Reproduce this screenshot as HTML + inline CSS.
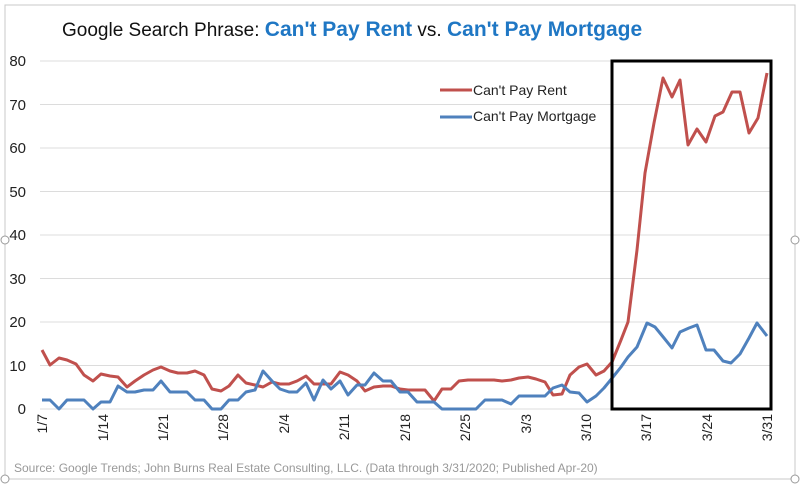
<!DOCTYPE html>
<html><head><style>body{margin:0;background:#fff}svg{display:block}</style></head><body>
<svg width="800" height="484" xmlns="http://www.w3.org/2000/svg" font-family="Liberation Sans, sans-serif">
<rect x="5" y="5" width="790" height="474" fill="none" stroke="#c8c8c8" stroke-width="1"/>
<g fill="#fff" stroke="#999"><circle cx="5" cy="240" r="4"/><circle cx="795" cy="240" r="4"/><circle cx="5" cy="479" r="4"/><circle cx="795" cy="479" r="4"/></g>
<text x="62" y="36" font-size="19" fill="#111">Google Search Phrase: <tspan fill="#1f77c4" font-weight="bold" font-size="21">Can't Pay Rent</tspan> vs. <tspan fill="#1f77c4" font-weight="bold" font-size="21">Can't Pay Mortgage</tspan></text>
<g stroke="#dcdcdc" stroke-width="1">
<line x1="40" x2="770" y1="61" y2="61"/><line x1="40" x2="770" y1="104.5" y2="104.5"/><line x1="40" x2="770" y1="148" y2="148"/><line x1="40" x2="770" y1="191.5" y2="191.5"/><line x1="40" x2="770" y1="235" y2="235"/><line x1="40" x2="770" y1="278.5" y2="278.5"/><line x1="40" x2="770" y1="322" y2="322"/><line x1="40" x2="770" y1="365.5" y2="365.5"/><line x1="40" x2="770" y1="409" y2="409"/>
</g>
<g font-size="15" fill="#222" text-anchor="end">
<text x="26" y="66">80</text><text x="26" y="110">70</text><text x="26" y="153">60</text><text x="26" y="197">50</text><text x="26" y="240">40</text><text x="26" y="284">30</text><text x="26" y="327">20</text><text x="26" y="371">10</text><text x="26" y="414">0</text>
</g>
<g font-size="14" fill="#222" text-anchor="end">
<text transform="translate(47,414) rotate(-90)">1/7</text>
<text transform="translate(108,414) rotate(-90)">1/14</text>
<text transform="translate(168,414) rotate(-90)">1/21</text>
<text transform="translate(228,414) rotate(-90)">1/28</text>
<text transform="translate(289,414) rotate(-90)">2/4</text>
<text transform="translate(349,414) rotate(-90)">2/11</text>
<text transform="translate(410,414) rotate(-90)">2/18</text>
<text transform="translate(470,414) rotate(-90)">2/25</text>
<text transform="translate(531,414) rotate(-90)">3/3</text>
<text transform="translate(591,414) rotate(-90)">3/10</text>
<text transform="translate(651,414) rotate(-90)">3/17</text>
<text transform="translate(712,414) rotate(-90)">3/24</text>
<text transform="translate(772,414) rotate(-90)">3/31</text>
</g>
<polyline fill="none" stroke="#c0504d" stroke-width="3" stroke-linejoin="round" points="42,350 50,365 59,358 67,360 76,364 84,375 93,381 101,374 110,376 118,377 127,387 135,381 144,375 153,370 161,367 170,371 178,373 187,373 195,371 204,375 212,389 221,391 229,386 238,375 246,383 255,385 263,387 272,382 280,384 289,384 297,381 306,376 314,384 323,384 331,384 340,372 348,375 357,381 365,391 374,387 383,386 391,386 400,389 408,390 417,390 425,390 434,401 442,389 451,389 459,381 468,380 476,380 485,380 494,380 502,381 511,380 519,378 528,377 536,379 545,382 553,395 562,394 570,375 579,367 587,364 596,375 604,371 612,362 621,340 628,322 637,250 645,173 654,123 663,78 672,97 680,80 688,145 697,129 706,142 715,116 723,112 732,92 740,92 749,133 758,118 767,73"/>
<polyline fill="none" stroke="#4f81bd" stroke-width="3" stroke-linejoin="round" points="42,400 50,400 59,409 67,400 76,400 84,400 93,409 101,402 110,402 118,386 127,392 135,392 144,390 153,390 161,381 170,392 178,392 187,392 195,400 204,400 212,409 221,409 229,400 238,400 246,392 255,390 263,371 272,381 280,389 289,392 297,392 306,383 314,400 323,380 331,389 340,381 348,395 357,385 365,385 374,373 383,381 391,381 400,392 408,392 417,402 425,402 434,402 442,409 451,409 459,409 468,409 476,409 485,400 494,400 502,400 511,404 519,396 528,396 536,396 545,396 553,388 562,385 570,392 579,393 587,402 596,396 604,388 613,377 621,367 628,357 637,347 647,323 655,327 664,338 672,348 680,332 689,328 697,325 706,350 714,350 723,361 731,363 740,354 749,338 757,323 767,336"/>
<rect x="612" y="61" width="159" height="348" fill="none" stroke="#000" stroke-width="3"/>
<line x1="440" x2="472" y1="90" y2="90" stroke="#c0504d" stroke-width="3"/>
<line x1="440" x2="472" y1="117" y2="117" stroke="#4f81bd" stroke-width="3"/>
<g font-size="14" fill="#222"><text x="473" y="95">Can't Pay Rent</text><text x="473" y="121">Can't Pay Mortgage</text></g>
<text x="14" y="472" font-size="12" fill="#999">Source: Google Trends; John Burns Real Estate Consulting, LLC. (Data through 3/31/2020; Published Apr-20)</text>
</svg>
</body></html>
